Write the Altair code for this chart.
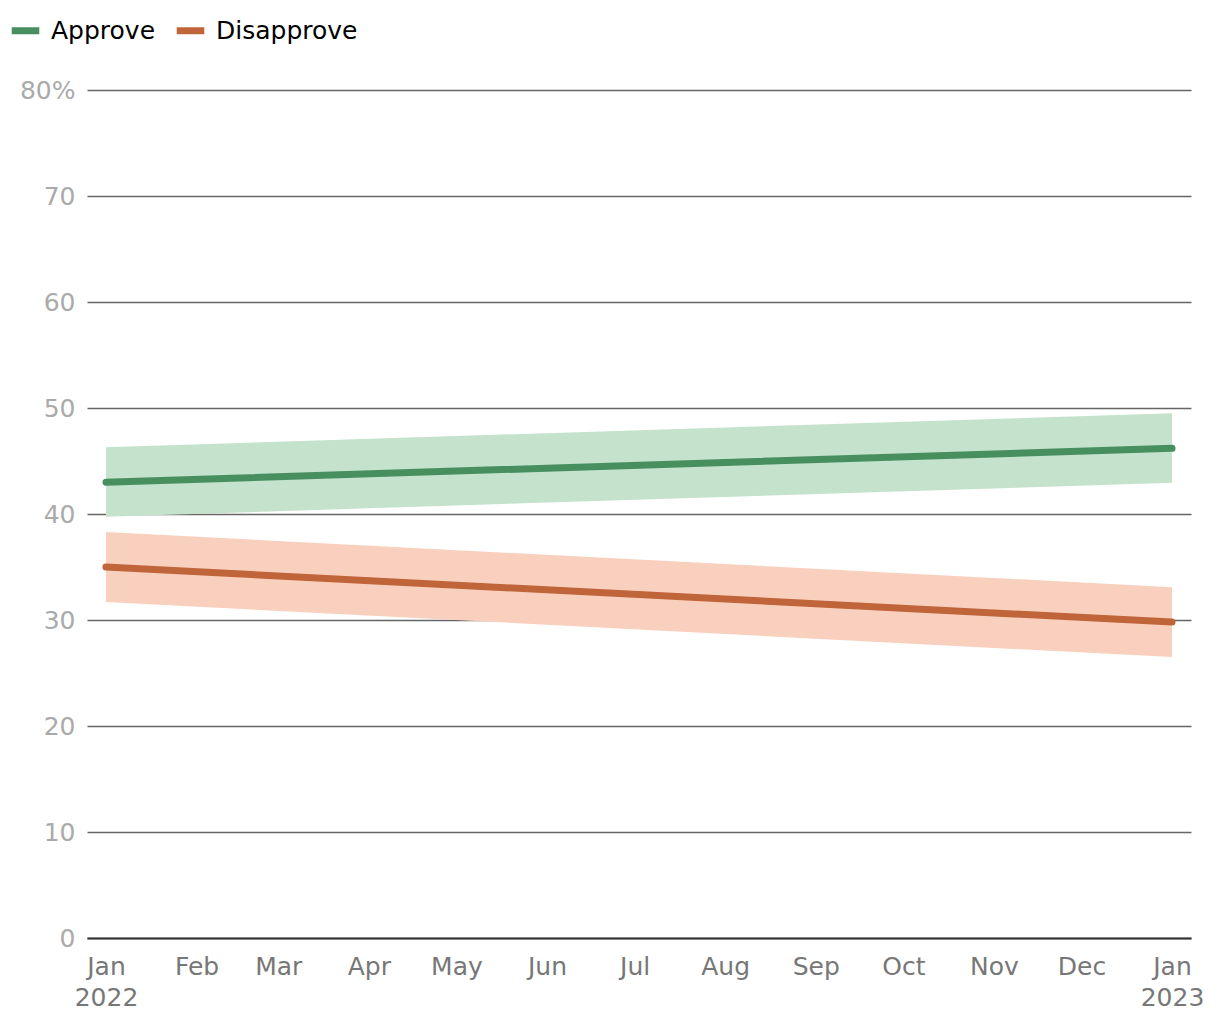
import altair as alt
import pandas as pd

series = ["Approve", "Approve", "Disapprove", "Disapprove"]
dates = ["2022-01-01", "2023-01-01", "2022-01-01", "2023-01-01"]
values = [43.0, 46.2, 35.0, 29.8]
lows = [39.75, 42.95, 31.7, 26.5]
highs = [46.3, 49.5, 38.3, 33.1]

line_colors = ["#478f5f", "#c0653a"]
band_colors = ["#c5e2cc", "#f9d0be"]
series_names = ["Approve", "Disapprove"]

tick_dates = ["2022-01-01", "2022-02-01", "2022-03-01", "2022-04-01", "2022-05-01",
              "2022-06-01", "2022-07-01", "2022-08-01", "2022-09-01", "2022-10-01",
              "2022-11-01", "2022-12-01", "2023-01-01"]
y_ticks = [0, 10, 20, 30, 40, 50, 60, 70, 80]

df = pd.DataFrame({"series": series, "band": series, "date": dates,
                   "value": values, "lo": lows, "hi": highs})

FONT = "DejaVu Sans"

def dt(s, h=0):
    y, m, d = map(int, s.split("-"))
    return alt.DateTime(year=y, month=m, date=d, hours=h, utc=True)

x = alt.X(
    "date:T",
    scale=alt.Scale(type="utc", domain=[dt("2021-12-25", 12), dt("2023-01-07", 12)], nice=False),
    axis=alt.Axis(
        title=None,
        values=[dt(s) for s in tick_dates],
        labelExpr="utcFormat(datum.value, '%m') == '01' ? [utcFormat(datum.value, '%b'), utcFormat(datum.value, '%Y')] : utcFormat(datum.value, '%b')",
        ticks=False,
        grid=False,
        domain=True,
        domainColor="#333333",
        domainWidth=2,
        labelColor="#777777",
        labelFontSize=25,
        labelFont=FONT,
        labelPadding=16,
        labelBaseline="top",
        labelLineHeight=31,
        labelOverlap=False,
        labelFlush=False,
    ),
)

y_scale = alt.Scale(domain=[0, 80], nice=False)
y_axis = alt.Axis(
    title=None,
    values=y_ticks,
    labelExpr="datum.value == 80 ? '80%' : datum.label",
    ticks=False,
    domain=False,
    grid=True,
    gridColor="#666666",
    gridWidth=1.5,
    labelColor="#aaaaaa",
    labelFontSize=25,
    labelFont=FONT,
    labelPadding=12,
)

band = alt.Chart(df).mark_area(opacity=1).encode(
    x=x,
    y=alt.Y("lo:Q", scale=y_scale, axis=y_axis),
    y2="hi:Q",
    fill=alt.Fill("band:N", scale=alt.Scale(domain=series_names, range=band_colors), legend=None),
)

line = alt.Chart(df).mark_line(strokeWidth=7, strokeCap="round").encode(
    x=x,
    y=alt.Y("value:Q", scale=y_scale, axis=y_axis),
    stroke=alt.Stroke(
        "series:N",
        scale=alt.Scale(domain=series_names, range=line_colors),
        legend=alt.Legend(
            title=None,
            orient="none",
            legendX=-79,
            legendY=-77,
            direction="horizontal",
            symbolType="stroke",
            symbolStrokeWidth=7,
            symbolSize=760,
            labelFontSize=25,
            labelFont=FONT,
            labelColor="#000000",
            columnPadding=6,
            labelOffset=8,
        ),
    ),
)

chart = alt.layer(band, line).resolve_scale(
    fill="independent", stroke="independent"
).properties(
    width=1104,
    height=848,
    padding={"left": 8, "top": 13, "right": 0, "bottom": 0},
).configure_view(stroke=None)

chart.save("out.html", embed_options={"renderer": "svg", "actions": False})
